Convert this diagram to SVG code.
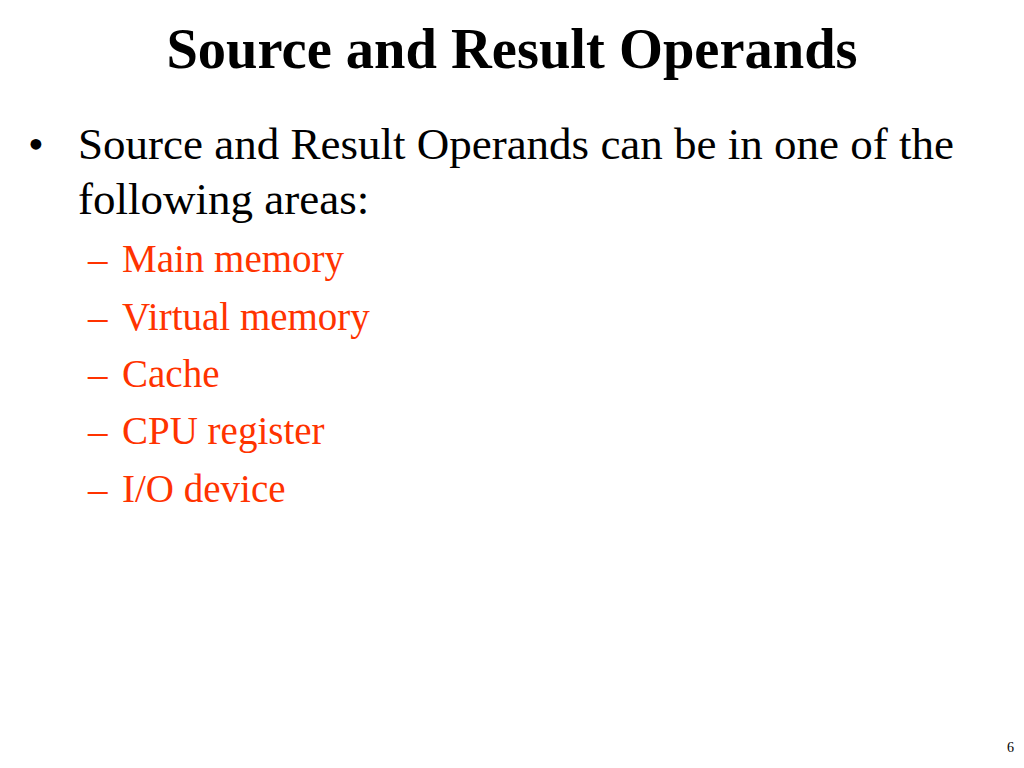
<svg xmlns="http://www.w3.org/2000/svg" width="1024" height="768" viewBox="0 0 1024 768">
<style>
text{font-family:"Liberation Serif","Times New Roman",serif;}
.t{font-size:56.5px;font-weight:bold;fill:#000;}
.b{font-size:45px;fill:#000;}
.s{font-size:39px;fill:#FF3300;}
</style>
<rect width="1024" height="768" fill="#fff"/>
<text class="t" x="512" y="68" text-anchor="middle">Source and Result Operands</text>
<text class="b" x="28" y="159">•</text>
<text class="b" x="78" y="159">Source and Result Operands can be in one of the</text>
<text class="b" x="78" y="214">following areas:</text>
<g class="s">
<text class="s" x="88" y="272">–</text><text class="s" x="122" y="272">Main memory</text>
<text class="s" x="88" y="330">–</text><text class="s" x="122" y="330">Virtual memory</text>
<text class="s" x="88" y="387">–</text><text class="s" x="122" y="387">Cache</text>
<text class="s" x="88" y="444">–</text><text class="s" x="122" y="444">CPU register</text>
<text class="s" x="88" y="502">–</text><text class="s" x="122" y="502">I/O device</text>
</g>
<text x="1014" y="752" font-size="14" text-anchor="end">6</text>
</svg>
